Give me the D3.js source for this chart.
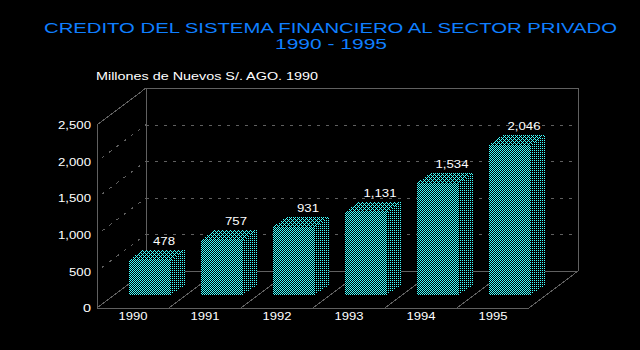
<!DOCTYPE html>
<html>
<head>
<meta charset="utf-8">
<script src="https://cdn.jsdelivr.net/npm/d3@7"></script>
<style>
  html, body { margin: 0; padding: 0; background: #000; overflow: hidden; }
  text { font-family: "Liberation Sans", sans-serif; }
</style>
</head>
<body>
<div id="chart"></div>
<script>
const years = ["1990", "1991", "1992", "1993", "1994", "1995"];
const credit = [478, 757, 931, 1131, 1534, 2046];
const yTicks = [0, 500, 1000, 1500, 2000, 2500];

const width = 640;
const height = 350;
const cyan = "#40ffff";
const lineGray = "#606060";

// Front wall of the box, and how far the back wall is shifted
const margin = { left: 97, right: 529, top: 125, bottom: 308 };
const depth = { dx: 49, dy: -37 };

const x = d3.scaleBand().domain(years).range([margin.left, margin.right]);
const y = d3.scaleLinear().domain([0, 2500]).range([margin.bottom, margin.top]);

const svg = d3.select("#chart")
  .append("svg")
  .attr("width", width)
  .attr("height", height)
  .style("display", "block");

svg.append("rect").attr("width", width).attr("height", height).attr("fill", "#000");

// Dither patterns for the three faces of a bar
const defs = svg.append("defs");

function addPattern(id, size, cells) {
  const p = defs.append("pattern")
    .attr("id", id)
    .attr("patternUnits", "userSpaceOnUse")
    .attr("width", size)
    .attr("height", size);
  p.selectAll("rect")
    .data(cells)
    .enter()
    .append("rect")
    .attr("x", d => d[0])
    .attr("y", d => d[1])
    .attr("width", 1)
    .attr("height", 1)
    .attr("fill", cyan);
}

addPattern("front", 2, [[0, 0], [1, 1]]);
addPattern("side", 2, [[0, 0]]);
addPattern("top", 4, [[0, 0], [1, 1], [1, 3], [2, 2], [3, 1], [3, 3]]);

const chart = svg.append("g").attr("shape-rendering", "crispEdges");

// Box outline
const back = { l: margin.left + depth.dx, r: margin.right + depth.dx, t: margin.top + depth.dy, b: margin.bottom + depth.dy };
const boxLines = [
  [margin.left, margin.top, margin.left, margin.bottom],
  [margin.left, margin.bottom, margin.right, margin.bottom],
  [back.l, back.t, back.r, back.t],
  [back.l, back.t, back.l, back.b],
  [back.r, back.t, back.r, back.b],
  [back.l, back.b, back.r, back.b],
  [margin.left, margin.top, back.l, back.t],
  [margin.right, margin.bottom, back.r, back.b]
];

chart.selectAll("line.box")
  .data(boxLines)
  .enter()
  .append("line")
  .attr("x1", d => d[0]).attr("y1", d => d[1])
  .attr("x2", d => d[2]).attr("y2", d => d[3])
  .attr("stroke", lineGray);

// Grid on back and left walls
const grid = yTicks.slice(1, -1);

chart.selectAll("line.back")
  .data(grid)
  .enter()
  .append("line")
  .attr("x1", back.l)
  .attr("x2", back.r - 5)
  .attr("y1", d => Math.round(y(d)) + depth.dy)
  .attr("y2", d => Math.round(y(d)) + depth.dy)
  .attr("stroke", lineGray)
  .attr("stroke-dasharray", "3 6");

chart.selectAll("line.side")
  .data(grid)
  .enter()
  .append("line")
  .attr("x1", margin.left + 5)
  .attr("y1", d => y(d) - 4)
  .attr("x2", back.l)
  .attr("y2", d => y(d) + depth.dy)
  .attr("stroke", lineGray)
  .attr("stroke-dasharray", "3 6");

// Floor dividers between the categories
chart.selectAll("line.floor")
  .data(years)
  .enter()
  .append("line")
  .attr("x1", d => x(d))
  .attr("y1", margin.bottom)
  .attr("x2", d => x(d) + depth.dx)
  .attr("y2", margin.bottom + depth.dy)
  .attr("stroke", lineGray);

// Bars
const barPad = 32;
const barW = 42;
const barLift = 13;
const barDx = 14;
const barDy = -10;

const bars = chart.selectAll("g.bar")
  .data(years.map((d, i) => ({ year: d, value: credit[i] })))
  .enter()
  .append("g")
  .attr("class", "bar");

const faceX = d => x(d.year) + barPad;
const faceTop = d => Math.round(y(d.value)) - barLift;
const faceBottom = y(0) - barLift;

// Clear what is behind each bar so the dither stays on black
bars.append("path")
  .attr("d", d => `M${faceX(d)},${faceBottom}V${faceTop(d)}l${barDx},${barDy}h${barW}V${faceBottom + barDy}l${-barDx},${-barDy}Z`)
  .attr("fill", "#000");

bars.append("rect")
  .attr("x", faceX)
  .attr("y", faceTop)
  .attr("width", barW)
  .attr("height", d => faceBottom - faceTop(d))
  .attr("fill", "url(#front)");

bars.append("path")
  .attr("d", d => `M${faceX(d) + barW},${faceBottom}V${faceTop(d)}l${barDx},${barDy}V${faceBottom + barDy}Z`)
  .attr("fill", "url(#side)");

bars.append("path")
  .attr("d", d => `M${faceX(d)},${faceTop(d)}l${barDx},${barDy}h${barW}l${-barDx},${-barDy}Z`)
  .attr("fill", "url(#top)");

// Axes, labels only
const yAxis = svg.append("g")
  .attr("transform", `translate(${margin.left - 6},0.5)`)
  .call(d3.axisLeft(y).tickValues(yTicks).tickSize(0).tickPadding(0).tickFormat(d3.format(",")));

const xAxis = svg.append("g")
  .attr("transform", `translate(0,${margin.bottom + 5})`)
  .call(d3.axisBottom(x).tickSize(0).tickPadding(0));

yAxis.select(".domain").remove();
xAxis.select(".domain").remove();

svg.selectAll(".tick text")
  .attr("fill", "#fff")
  .style("font-family", '"Liberation Sans", sans-serif')
  .style("font-size", "10px");

yAxis.selectAll(".tick text").attr("textLength", d => d === 0 ? 8 : d < 1000 ? 22 : 33).attr("lengthAdjust", "spacingAndGlyphs");
xAxis.selectAll(".tick text").attr("textLength", 29).attr("lengthAdjust", "spacingAndGlyphs");

// Value labels
svg.selectAll("text.value")
  .data(years.map((d, i) => ({ year: d, value: credit[i] })))
  .enter()
  .append("text")
  .attr("class", "value")
  .attr("x", d => faceX(d) + 35)
  .attr("y", d => faceTop(d) + barDy - 5)
  .attr("text-anchor", "middle")
  .attr("fill", "#fff")
  .style("font-size", "10px")
  .attr("textLength", d => d.value < 1000 ? 22 : 33)
  .attr("lengthAdjust", "spacingAndGlyphs")
  .text(d => d3.format(",")(d.value));

// Titles
svg.append("text")
  .attr("x", 330.5)
  .attr("y", 33)
  .attr("text-anchor", "middle")
  .attr("fill", "#0f7fff")
  .style("font-size", "15px")
  .attr("textLength", 573)
  .attr("lengthAdjust", "spacingAndGlyphs")
  .text("CREDITO DEL SISTEMA FINANCIERO AL SECTOR PRIVADO");

svg.append("text")
  .attr("x", 331)
  .attr("y", 49)
  .attr("text-anchor", "middle")
  .attr("fill", "#0f7fff")
  .style("font-size", "15px")
  .attr("textLength", 112)
  .attr("lengthAdjust", "spacingAndGlyphs")
  .text("1990 - 1995");

svg.append("text")
  .attr("x", 96)
  .attr("y", 80)
  .attr("fill", "#fff")
  .style("font-size", "10px")
  .attr("textLength", 222)
  .attr("lengthAdjust", "spacingAndGlyphs")
  .text("Millones de Nuevos S/. AGO. 1990");
</script>
</body>
</html>
